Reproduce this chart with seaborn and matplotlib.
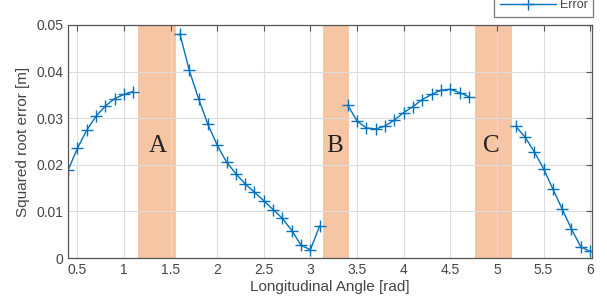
import numpy as np
import pandas as pd
import matplotlib
matplotlib.use("Agg")
import matplotlib.pyplot as plt
import seaborn as sns
from matplotlib.lines import Line2D

# data (four separate segments)
seg1_x = [0.4, 0.5, 0.6, 0.7, 0.8, 0.9, 1.0, 1.1]
seg1_y = [0.0188, 0.0235, 0.0274, 0.0304, 0.0326, 0.0342, 0.0351, 0.0357]
seg2_x = [1.6, 1.7, 1.8, 1.9, 2.0, 2.1, 2.2, 2.3, 2.4, 2.5, 2.6, 2.7, 2.8, 2.9, 3.0, 3.1]
seg2_y = [0.0481, 0.0403, 0.0342, 0.0287, 0.0242, 0.0206, 0.0181, 0.0159, 0.0141,
          0.0123, 0.0104, 0.0085, 0.0059, 0.0027, 0.0018, 0.0069]
seg3_x = [3.4, 3.5, 3.6, 3.7, 3.8, 3.9, 4.0, 4.1, 4.2, 4.3, 4.4, 4.5, 4.6, 4.7]
seg3_y = [0.0328, 0.0294, 0.0279, 0.0277, 0.0283, 0.0296, 0.0312, 0.0325, 0.0340,
          0.0351, 0.0360, 0.0362, 0.0355, 0.0346]
seg4_x = [5.2, 5.3, 5.4, 5.5, 5.6, 5.7, 5.8, 5.9, 6.0]
seg4_y = [0.0283, 0.0260, 0.0228, 0.0192, 0.0148, 0.0105, 0.0062, 0.0024, 0.0014]

# shaded gaps
zone_labels = ["A", "B", "C"]
zone_start = [1.15, 3.13, 4.76]
zone_end = [1.56, 3.41, 5.16]
zone_text_x = [1.36, 3.26, 4.94]

rows = []
for i, (xs, ys) in enumerate([(seg1_x, seg1_y), (seg2_x, seg2_y),
                              (seg3_x, seg3_y), (seg4_x, seg4_y)]):
    for x, y in zip(xs, ys):
        rows.append({"angle": x, "err": y, "seg": i})
df = pd.DataFrame(rows)

sns.set_style("white")
plt.rcParams['font.family'] = ['Liberation Sans', 'DejaVu Sans']

blue = "#0072BD"
fig = plt.figure(figsize=(6.07, 3.05), dpi=100)
ax = fig.add_axes([68/607, 1 - 258/305, (592-68)/607, (258-25)/305])

for s, e, lab, tx in zip(zone_start, zone_end, zone_labels, zone_text_x):
    ax.axvspan(s, e, color="#f6c5a4", zorder=0, lw=0)
    ax.text(tx, 0.024, lab, family="Liberation Serif", fontsize=18,
            ha="center", va="center", color="#222222")

sns.lineplot(data=df, x="angle", y="err", units="seg", estimator=None,
             color=blue, marker="+", markersize=9, markeredgewidth=1.0,
             markeredgecolor=blue, linewidth=1.0, ax=ax, legend=False)

ax.set_xlim(0.4, 6.02)
ax.set_ylim(0, 0.05)
ax.set_xticks([0.5, 1, 1.5, 2, 2.5, 3, 3.5, 4, 4.5, 5, 5.5, 6])
ax.set_xticklabels(["0.5", "1", "1.5", "2", "2.5", "3", "3.5", "4", "4.5", "5", "5.5", "6"])
ax.set_yticks([0, 0.01, 0.02, 0.03, 0.04, 0.05])
ax.set_yticklabels(["0", "0.01", "0.02", "0.03", "0.04", "0.05"])
ax.grid(True, color="#dddddd", linewidth=0.8)
ax.set_axisbelow(True)
ax.tick_params(direction="in", top=True, right=True, length=4,
               labelsize=10, colors="#555555", labelcolor="#444444")
for sp in ax.spines.values():
    sp.set_color("#555555")
    sp.set_linewidth(0.9)
ax.set_xlabel("Longitudinal Angle [rad]", fontsize=11, color="#444444", labelpad=2)
ax.set_ylabel("Squared root error [m]", fontsize=11, color="#444444", labelpad=4)

h = Line2D([], [], color=blue, marker="+", markersize=9, markeredgewidth=1.0,
           linewidth=1.0)
leg = ax.legend([h], ["Error"], loc="lower right", bbox_to_anchor=(1.002, 1.035),
                fontsize=9, frameon=True, fancybox=False, borderpad=0.45,
                handlelength=4.5, handletextpad=0.3, borderaxespad=0)
leg.get_frame().set_edgecolor("#555555")
leg.get_frame().set_linewidth(0.9)
for t in leg.get_texts():
    t.set_color("#444444")

fig.savefig("out.png", dpi=100)
